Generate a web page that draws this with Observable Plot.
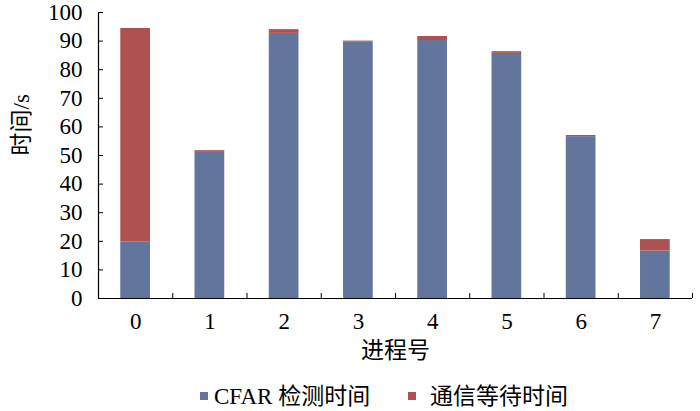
<!DOCTYPE html>
<html><head><meta charset="utf-8">
<script src="https://cdn.jsdelivr.net/npm/d3@7"></script>
<script src="https://cdn.jsdelivr.net/npm/@observablehq/plot@0.6"></script>
<style>
body{margin:0;background:#fff;font-family:"Liberation Serif","Noto Sans CJK SC",serif;}
#chart svg{display:block;overflow:visible;}
#chart svg text{font-family:"Liberation Serif","Noto Sans CJK SC",serif !important;font-size:23px !important;}
#legend{position:relative;width:700px;height:29px;font-size:23px;color:#000;}
#legend .sw{position:absolute;top:10px;width:8px;height:8px;}
#legend .lab{position:absolute;top:0;line-height:29px;white-space:nowrap;}
</style></head><body><div id="chart"></div><div id="legend"></div><script>
const processes = [0,1,2,3,4,5,6,7];
const cfarTime = [19.7,51.1,92.7,89.6,90.2,85.7,56.6,16.6];
const commWait = [74.7,0.6,1.3,0.4,1.4,0.6,0.4,4.0];
const seriesNames = ["CFAR 检测时间","通信等待时间"];
const colors = ["#62759d","#af514e"];
const yTicks = d3.range(0,101,10);
const xTitle = "进程号";
const yTitle = "时间/s";

const rows = processes.flatMap((p,i)=>[
  {p, s: seriesNames[0], y1: 0, y2: cfarTime[i]},
  {p, s: seriesNames[1], y1: cfarTime[i], y2: cfarTime[i] + commWait[i]}
]);

const FS = 23;
const chart = Plot.plot({
  width: 700, height: 382,
  marginLeft: 98, marginRight: 8, marginTop: 12, marginBottom: 84,
  style: {fontFamily: '"Liberation Serif","Noto Sans CJK SC",serif', fontSize: FS + "px", color: "#000", background: "#fff", overflow: "visible"},
  x: {type: "linear", domain: [-0.5, 7.5], label: null},
  y: {domain: [0, 100], label: null},
  color: {domain: seriesNames, range: colors},
  marks: [
    Plot.rectY(rows, {x1: d => d.p - 0.2, x2: d => d.p + 0.2, y1: "y1", y2: "y2", fill: "s"}),
    Plot.ruleX([-0.5], {stroke: "#000", strokeWidth: 1.2}),
    Plot.ruleY([0], {stroke: "#000", strokeWidth: 1.2}),
    Plot.axisY({ticks: yTicks, tickSize: 0, tickPadding: 16, label: null, fontSize: FS, tickFormat: d => String(d)}),
    Plot.axisY({ticks: yTicks, tickSize: 5, dx: 5, label: null, tickFormat: () => ""}),
    Plot.axisX({ticks: d3.range(-0.5, 8, 1), tickSize: 5, dy: -5, label: null, tickFormat: () => ""}),
    Plot.axisX({ticks: processes, tickSize: 0, tickPadding: 14, label: null, fontSize: FS, tickFormat: d => String(d)}),
    Plot.text([yTitle], {frameAnchor: "left", rotate: -90, dx: -77, fontSize: FS}),
    Plot.text([xTitle], {frameAnchor: "bottom", dy: 59, fontSize: FS})
  ]
});
document.getElementById("chart").appendChild(chart);

const legend = document.getElementById("legend");
const swLeft = [200, 408], labLeft = [214, 430];
seriesNames.forEach((name, i) => {
  const sw = document.createElement("span");
  sw.className = "sw";
  sw.style.background = colors[i];
  sw.style.left = swLeft[i] + "px";
  const lab = document.createElement("span");
  lab.className = "lab";
  lab.style.left = labLeft[i] + "px";
  lab.textContent = name;
  legend.appendChild(sw);
  legend.appendChild(lab);
});
</script></body></html>
